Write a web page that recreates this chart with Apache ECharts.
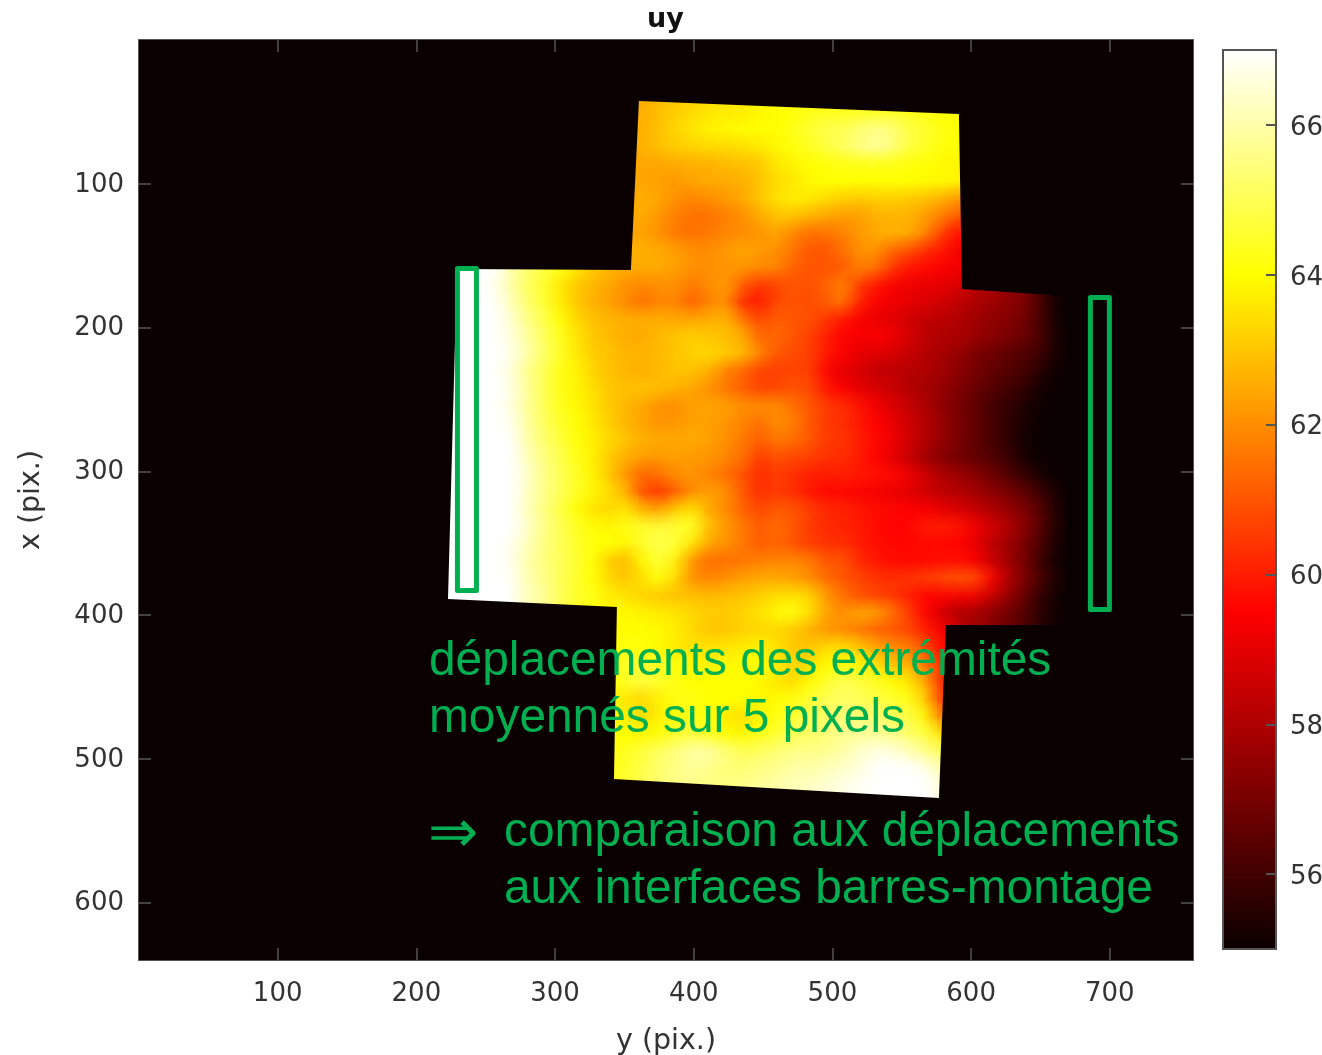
<!DOCTYPE html>
<html><head><meta charset="utf-8">
<style>html,body{margin:0;padding:0;background:#fff}#c{width:1322px;height:1055px}</style>
<script src="https://cdn.jsdelivr.net/npm/echarts@6/dist/echarts.min.js"></script>
</head><body><div id="c"></div>
<script>
const titleText='uy', xName='y (pix.)', yName='x (pix.)';
const xTicks=[100,200,300,400,500,600,700];
const yTicks=[100,200,300,400,500,600];
const colorTicks=[56,58,60,62,64,66];
const hotColors=['#0b0000','#5c0000','#ae0000','#ff0000','#ff5500','#ffaa00','#ffff00','#ffff80','#ffffff'];
const cellSize=12, firstX=222, firstY=42;
const rowStart=[11,11,11,11,11,11,11,11,11,11,0,0,0,0,0,0,0,0,0,0,0,0,0,0,0,0,0,0,0,0,10,10,10,10,10,10,10,10,10,10,10];
const r00=[62.5,62.5,62.8,63,63.2,63.4,63.5,63.6,63.8,64,64,64,64,64,64,64,64,64,64,64,64];
const r01=[62.6,62.6,62.9,63.2,63.4,63.6,63.7,63.7,63.9,64,64.1,64.3,64.4,64.4,64.5,64.5,64.5,64.3,64.2,64,64];
const r02=[62.6,62.6,63,63.3,63.6,63.8,63.9,64,64,64,64.3,64.6,64.9,65,65.4,65.7,65.4,64.8,64.5,64.2,64];
const r03=[62.6,62.6,62.9,63.1,63.2,63.3,63.3,63.4,63.6,63.9,64.1,64.4,64.7,65.1,65.5,65.8,65.4,64.7,64.4,64.1,64];
const r04=[62.5,62.4,62.4,62.5,62.6,62.6,62.8,62.9,63,63.6,63.8,64,64.1,64.2,64.2,64.2,64.2,64.1,64,63.9,63.8];
const r05=[62.4,62.4,62.3,62.2,62.4,62.5,62.5,62.6,63,63.4,63.6,63.9,64,64,64,64,64,64,63.9,63.9,63.8];
const r06=[62.5,62.6,62.4,62,61.8,62,62.2,62.5,63,63.5,63.7,63.6,63.3,63.1,63,63.1,63.1,63,62.8,62.5,62];
const r07=[62.5,62.5,62.1,61.7,61.5,61.5,61.8,62,62.5,62.9,62.9,62.6,62.4,62.2,62.3,62.6,62.7,62.6,62.2,61.6,61];
const r08=[62.3,62.4,62,61.6,61.5,61.7,61.9,62,62.1,62.4,61.8,61.4,61.5,61.8,62.2,62.5,62.6,62.5,61.7,60.5,59.6];
const r09=[62.6,62.6,62.5,62.3,62,62,62.2,62.5,62.2,62,61.5,61,61,61.5,62.1,62,61.2,60.8,60.2,59.8,59.3];
const r10=[67,67,67,67,66,65.3,64.8,64.2,63.6,63,62.7,62.5,62.5,62.5,62.3,62,62.1,62.1,62.1,61.9,61.8,61.2,61,61,61.1,61.7,61.4,60.4,59.8,59.6,59.4,59.2];
const r11=[67,67,67,66.8,66,65.1,64.5,63.6,63,62.7,62.4,62,61.9,62,62,61.6,62,62.2,61,60.4,60.7,61,60.9,61.3,61.8,60.5,59.8,59.4,59.2,59.1,59,58.8,58.2,57.9,57.5,57,55.8,55];
const r12=[67,67,67,67,66.2,65.3,64.6,63.7,63,62.6,62.3,61.9,61.5,61.9,61.8,61.2,61.9,62,60.2,60,60.8,61,60.8,61.1,61.5,60,59.4,59.2,59,58.8,58.6,58.3,57.9,57.7,57.4,57,56,55];
const r13=[67,67,67,67,66.5,65.6,64.9,64,63.3,62.9,62.7,62.6,62.6,62.6,62.5,62.5,62.6,62.7,61.6,60.8,61.2,61,60.9,60.4,59.8,59.4,59.1,58.9,58.6,58.3,58.2,58,57.7,57.4,57.2,56.8,55.9,55];
const r14=[67,67,67,67,66.6,65.9,65.1,64.3,63.5,63,62.8,62.5,62.5,62.8,63,63.2,63,62.9,62.5,61.3,61.3,61,60.6,60,59.5,59.3,59.5,59.2,58.7,58.2,58,57.9,57.6,57.3,57,56.7,56,55.1];
const r15=[67,67,67,67,66.7,66,65.2,64.4,63.6,63.1,62.9,62.7,62.7,62.8,63,63.2,63.3,63,62.7,61.8,61,60.8,60.6,59.9,59.4,59,58.9,58.7,58.4,58.1,57.8,57.5,57,56.8,56.5,56.2,55.8,55.1];
const r16=[67,67,67,67,66.6,65.6,65,64.2,63.8,63.2,62.9,62.7,62.6,62.8,63,62.8,62.5,61.7,61.2,60.6,60.6,60.7,60.6,59.5,59,58.8,58.3,58.3,58.1,58,57.7,57.3,56.9,56.6,56.3,56,55.4,55];
const r17=[67,67,67,67,66.7,65.8,65,64.2,63.8,63.4,63,62.9,62.9,62.8,62.6,62.4,62,61.6,61.2,60.7,60.8,61,60.8,59.9,59.5,59,58.8,58.5,58.1,57.8,57.5,57.1,56.7,56.3,56,55.6,55.1,55];
const r18=[67,67,67,67,66.6,65.8,65,64.3,63.9,63.5,63,62.7,62.4,62,62,62.3,62.4,62.3,62,62,62,61.5,61,60.5,60.3,59.8,59.3,58.8,58.4,57.9,57.4,57,56.5,56,55.7,55.3,55,55];
const r19=[67,67,67,67,66.8,65.9,65.1,64.5,64,63.6,63.1,62.7,62.4,62.1,62.2,62.4,62.3,62.1,61.8,61.4,62,61.7,61,60.5,60.3,59.9,59.5,59.1,58.6,58.1,57.5,57,56.6,56.1,55.6,55.2,55,55];
const r20=[67,67,67,67,67,66,65.3,64.7,64.1,63.7,63.3,62.9,62.6,62.5,62.5,62.5,62.3,62,61.6,61.1,61.6,61.4,61,60.5,60.4,60,59.6,59.2,58.6,58,57.5,57,56.5,56.1,55.6,55.1,55,55];
const r21=[67,67,67,67,67,66.2,65.5,64.9,64.2,63.7,63,62.5,62.2,62.2,62.3,62.2,62.1,61.8,61.4,60.5,60.9,60.7,60.6,60.3,60.3,59.9,59.5,59,58.4,57.7,57.2,56.9,56.6,56.3,55.8,55.2,55,55];
const r22=[67,67,67,67,67,66.4,65.6,65,64.4,63.8,63,62,61.2,61.5,62,62.1,61.8,61.4,60.9,60.2,60.6,60.3,60,60,60,59.9,59.8,59.6,59.2,58.6,58,57.7,57.3,56.8,56.3,55.7,55.2,55];
const r23=[67,67,67,67,67,66.3,65.6,65,64.4,63.8,63.4,62.6,60.8,60.5,61.3,62.1,62.3,62,61,60.3,60.6,60.3,59.9,59.6,59.6,59.4,59.3,59.1,58.9,58.6,58.3,58.1,57.8,57.4,57,56.5,55.8,55.1];
const r24=[67,67,67,67,67,66.2,65.5,64.8,64,63.5,63.3,63.6,62.7,62.5,63.3,63.5,62.4,61.9,61.2,60.8,61.1,61,60.6,60.2,60.1,59.9,59.7,59.6,59.5,59.4,59.1,58.8,58.4,58,57.5,57,56.2,55.2];
const r25=[67,67,67,67,67,66.4,65.6,65,64.4,64,63.9,64.3,64.5,64.7,64.6,64.4,62.8,62.2,61.6,61.1,61.4,61,60.5,60.2,60.1,59.9,59.7,59.5,59.6,60,60,59.8,59.2,58.6,58,57.2,56.2,55.2];
const r26=[67,67,67,67,66.8,66.2,65.5,65,64.5,64.1,64,63.8,64.6,64.9,64.5,63.4,62.3,62,61.6,61.1,61.3,61,60.6,60.4,60.3,60,59.7,59.6,59.6,59.6,59.6,59.5,59,58.2,57.6,56.9,56,55.1];
const r27=[67,67,67,67,66.8,66,65.5,65,64.6,64,63,62.8,64,64.7,63.6,61.9,61.4,61.5,61.6,61.8,61.9,61.9,61.7,61,61,60.2,59.9,59.7,59.7,59.7,59.8,59.8,59.4,58.4,57.7,56.8,55.8,55];
const r28=[67,67,67,67,66.9,66.1,65.6,65,64.5,64,63.3,63,63.5,64.1,63.2,62,61.9,62.1,62.4,62.5,62.5,62.4,62,61.4,61,60.7,60.4,60.3,60.4,60.6,60.8,61,60.8,59.4,57.9,57,56,55.2];
const r29=[67,67,67,67,67,66.2,65.8,65,64.5,64.2,63.7,63.5,63.2,63,62.9,62.9,62.8,62.9,63,63.2,63.5,63.5,63.3,62.2,61.5,61,60.7,60.5,60,59.5,59.4,59.3,59.2,58.3,57.5,56.5,55.6,55];
const r30=[64,63.9,63.8,63.7,63.5,63.3,63.1,63.1,63.3,63.5,63.9,64.2,63.4,62.3,62,62.5,62.3,61.5,60.5,59.5,58.6,58,57.8,57.3,56.8,56.2,55.5,55];
const r31=[63.9,64,64,63.9,63.7,63.3,63,63,63.2,63.3,63.3,63,62.6,62.2,62,61.6,61.2,61,60.7,60,59.3];
const r32=[64,64.2,64.1,63.9,63.6,63.5,63.5,63.6,63.7,63.8,63.5,63,63,63.4,63.5,63,62.5,62,61.7,60.8,59.5];
const r33=[64.2,64.5,64.6,64.4,64.1,63.9,63.8,63.9,64,64,63.7,63.2,63.5,64,64.2,63.9,63.5,63,62.6,61.5,60.2];
const r34=[64,64.5,64.7,64.5,64.2,64,64,64,64,63.9,63.6,63.4,64,64.6,65,64.8,64.4,64,63.6,62.3,60];
const r35=[63.8,63.5,63.3,63.8,64.2,64.2,64,64,64,63.8,64,64.2,64.6,65,65.2,65,64.8,64.6,64.2,62.9,60.3];
const r36=[64,63.7,63.4,63.8,64.2,64.2,64.1,63.6,63.4,63.9,64.2,64.6,65,65.2,65.4,65.4,65.3,65,64.8,63.8,61.5];
const r37=[64,64,63.9,64.1,64.6,64.8,64.4,64,63.9,64.3,64.6,65,65.2,65.4,65.7,65.8,65.8,65.6,65.2,64.7,63.5];
const r38=[64.2,64.4,64.8,65.2,65.5,66,65.9,65.4,65,65.1,65.4,65.6,65.6,65.7,66,66.4,66.7,66.6,66.2,65.6,65];
const r39=[64.3,64.5,64.9,65.3,65.6,65.8,65.6,65.4,65.4,65.6,65.7,66,66,66.2,66.4,66.6,67,67,67,66.7,66];
const r40=[64.4,64.6,65,65.4,65.6,65.6,65.5,65.5,65.6,65.8,66,66.2,66.3,66.5,66.7,66.9,67,67,67,67,66.5];
const rows=[r00,r01,r02,r03,r04,r05,r06,r07,r08,r09,r10,r11,r12,r13,r14,r15,r16,r17,r18,r19,r20,r21,r22,r23,r24,r25,r26,r27,r28,r29,r30,r31,r32,r33,r34,r35,r36,r37,r38,r39,r40];
// outline of the measured field, [y pix, x pix], then the plot frame
const fieldOutline=[[229.3,159.3],[222.8,388.9],[344.6,394.4],[342.5,514.1],[576.8,527.3],[581.8,407],[668,407],[668,178],[593.4,173.2],[591.2,51.5],[360.5,42.4],[354.7,160],[229.3,159.3]];
const frameOutline=[[0,0],[760,0],[760,640],[0,640],[0,0]];
// zones [y0,x0,y1,x1]
const zones=[[229.6,159,243.3,383],[686,179.1,699.7,396.2]];
const notes=[['déplacements des extrémités',429,662,48],['moyennés sur 5 pixels',429,719,48],['⇒',428,835,60],['comparaison aux déplacements',504,833,48],['aux interfaces barres-montage',504,890,48]];
const GREEN='#00b050', TXT='#333333', LINE='#555555';

const cells=[];
rows.forEach((row,j)=>row.forEach((v,k)=>cells.push([firstX+cellSize*(k+rowStart[j]),firstY+cellSize*j,v])));
const maskPts=frameOutline.concat(fieldOutline,[[0,0]]);
const labelFont={fontFamily:'DejaVu Sans',fontSize:26,color:TXT};
const nameFont={fontFamily:'DejaVu Sans',fontSize:28.5,color:TXT};
const tickStyle={color:LINE,width:1.5};

const chart=echarts.init(document.getElementById('c'),null,{renderer:'canvas'});
chart.setOption({
  animation:false,
  backgroundColor:'#ffffff',
  title:{text:titleText,left:642,top:1,textStyle:{fontFamily:'DejaVu Sans',fontWeight:'bold',fontSize:27,color:'#111'}},
  grid:[
    {left:139,top:40,width:1054,height:920,show:true,backgroundColor:'#0b0000',borderColor:LINE,borderWidth:2,z:0,outerBoundsMode:'none'},
    {left:1223,top:50,width:53,height:899,show:true,backgroundColor:'transparent',borderColor:LINE,borderWidth:2,z:8,outerBoundsMode:'none'}
  ],
  xAxis:[
    {type:'value',gridIndex:0,min:0,max:760,position:'bottom',name:xName,nameLocation:'middle',nameGap:67,nameTextStyle:nameFont,
     axisLine:{show:false,onZero:false},splitLine:{show:false},z:9,
     axisTick:{inside:true,length:12,lineStyle:tickStyle,customValues:xTicks},
     axisLabel:{...labelFont,margin:21,customValues:xTicks}},
    {type:'value',gridIndex:0,min:0,max:760,position:'top',axisLine:{show:false,onZero:false},splitLine:{show:false},z:9,
     axisTick:{inside:true,length:12,lineStyle:tickStyle,customValues:xTicks},axisLabel:{show:false}},
    {type:'value',gridIndex:1,show:false,min:0,max:1}
  ],
  yAxis:[
    {type:'value',gridIndex:0,min:0,max:640,inverse:true,position:'left',name:yName,nameLocation:'middle',nameGap:93,nameTextStyle:nameFont,
     axisLine:{show:false,onZero:false},splitLine:{show:false},z:9,
     axisTick:{inside:true,length:12,lineStyle:tickStyle,customValues:yTicks},
     axisLabel:{...labelFont,margin:15,formatter:'{a|{value}}',rich:{a:{...labelFont,padding:[2,0,0,0]}},customValues:yTicks}},
    {type:'value',gridIndex:0,min:0,max:640,inverse:true,position:'right',axisLine:{show:false,onZero:false},splitLine:{show:false},z:9,
     axisTick:{inside:true,length:12,lineStyle:tickStyle,customValues:yTicks},axisLabel:{show:false}},
    {type:'value',gridIndex:1,min:55,max:67,position:'right',axisLine:{show:false,onZero:false},splitLine:{show:false},z:9,
     axisTick:{inside:true,length:10,lineStyle:{color:LINE,width:2},customValues:colorTicks},
     axisLabel:{...labelFont,margin:14,formatter:'{a|{value}}',rich:{a:{...labelFont,padding:[6,0,0,0]}},customValues:colorTicks}}
  ],
  visualMap:{type:'continuous',seriesIndex:[0,1],dimension:2,min:55,max:67,left:1223,top:50,itemWidth:53,itemHeight:899,padding:0,
    calculable:false,hoverLink:false,text:null,showLabel:false,inRange:{color:hotColors},textStyle:{fontSize:0},z:4},
  series:[
    {type:'custom',name:'uy',xAxisIndex:0,yAxisIndex:0,data:cells,encode:{x:0,y:1},silent:true,clip:true,z:2,
     renderItem:(p,api)=>{
       const x=api.value(0),y=api.value(1),h=cellSize/2;
       const a=api.coord([x-h,y-h]),b=api.coord([x+h,y+h]);
       const l=Math.floor(a[0]),t=Math.floor(a[1]);
       return {type:'rect',shape:{x:l,y:t,width:Math.ceil(b[0])-l,height:Math.ceil(b[1])-t},style:{fill:api.visual('color')}};
     }},
    // soft glyph over each cell: same value and colour, fading outwards, so the cell edges do not read as a staircase
    {type:'custom',name:'uy soft',xAxisIndex:0,yAxisIndex:0,data:cells,encode:{x:0,y:1},silent:true,clip:true,z:2,
     renderItem:(p,api)=>{
       const c=api.coord([api.value(0),api.value(1)]),col=api.visual('color'),r=24;
       return {type:'circle',shape:{cx:c[0],cy:c[1],r:r},style:{fill:{type:'radial',x:0.5,y:0.5,r:0.5,
         colorStops:[{offset:0,color:echarts.color.modifyAlpha(col,0.8)},{offset:0.5,color:echarts.color.modifyAlpha(col,0.45)},{offset:1,color:echarts.color.modifyAlpha(col,0)}]}}};
     }},
    {type:'custom',name:'mask',xAxisIndex:0,yAxisIndex:0,data:[[0,0]],encode:{x:0,y:1},silent:true,clip:true,z:3,
     renderItem:(p,api)=>({type:'polygon',shape:{points:maskPts.map(q=>api.coord(q))},style:{fill:'#0b0000'}})},
    {type:'custom',name:'zones',xAxisIndex:0,yAxisIndex:0,data:zones,encode:{x:[0,2],y:[1,3]},silent:true,clip:true,z:4,
     renderItem:(p,api)=>{
       const a=api.coord([api.value(0),api.value(1)]),b=api.coord([api.value(2),api.value(3)]);
       return {type:'rect',shape:{x:a[0],y:a[1],width:b[0]-a[0],height:b[1]-a[1]},
         style:{fill:'none',stroke:GREEN,lineWidth:5,lineJoin:'round'}};
     }}
  ],
  graphic:notes.map(n=>({type:'text',x:n[1],y:n[2],z:20,silent:true,
    style:{text:n[0],fill:GREEN,font:(n[3]===48?47.85:n[3])+'px "Liberation Sans"',verticalAlign:'middle'}}))
});
</script></body></html>
